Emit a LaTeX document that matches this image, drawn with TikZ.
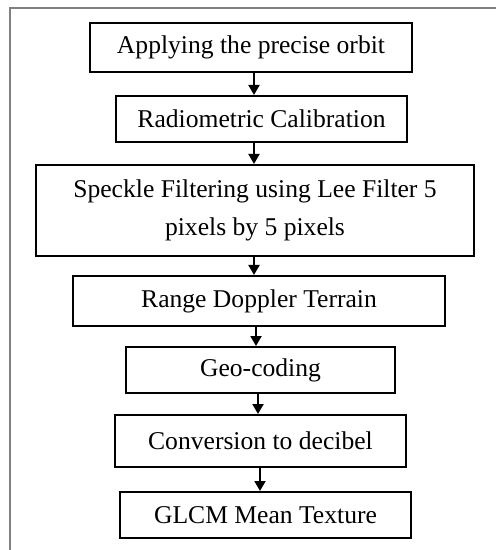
\documentclass[tikz,border=0pt]{standalone}
\usepackage{fontspec}
\setmainfont{Liberation Serif}
\usetikzlibrary{arrows.meta}

\begin{document}
\begin{tikzpicture}[x=0.5pt,y=-0.5pt,>={Triangle[width=5.5pt,length=5pt]},
  stepbox/.style={draw,line width=1pt,inner sep=0pt,align=center,
    font=\fontsize{12.8}{19}\selectfont},
  flow/.style={->,line width=1pt}]
  \useasboundingbox (0,0) rectangle (496,550);
  \draw[gray,line width=0.75pt] (496,8)--(10,8)--(10,550);
  \node[stepbox,minimum width=161pt,minimum height=24.5pt] (orbit) at (251,47.5) {Applying the precise orbit};
  \node[stepbox,minimum width=145.5pt,minimum height=23pt] (calib) at (261.5,119) {Radiometric Calibration};
  \node[stepbox,minimum width=219pt,minimum height=45.5pt] (speckle) at (255,210.5) {Speckle Filtering using Lee Filter 5\\pixels by 5 pixels};
  \node[stepbox,minimum width=186pt,minimum height=25pt] (terrain) at (259,301) {Range Doppler Terrain};
  \node[stepbox,minimum width=134.5pt,minimum height=23pt] (geo) at (260.5,370) {Geo-coding};
  \node[stepbox,minimum width=145.5pt,minimum height=26pt] (decibel) at (260.5,441) {Conversion to decibel};
  \node[stepbox,minimum width=145.5pt,minimum height=23pt] (glcm) at (265.5,515) {GLCM Mean Texture};
  \coordinate (s1) at (254,0); \coordinate (s2) at (256,0);
  \coordinate (s3) at (258,0); \coordinate (s4) at (260,0);
  \draw[flow] (orbit.south -| s1)--(calib.north -| s1);
  \draw[flow] (calib.south -| s1)--(speckle.north -| s1);
  \draw[flow] (speckle.south -| s1)--(terrain.north -| s1);
  \draw[flow] (terrain.south -| s2)--(geo.north -| s2);
  \draw[flow] (geo.south -| s3)--(decibel.north -| s3);
  \draw[flow] (decibel.south -| s4)--(glcm.north -| s4);
\end{tikzpicture}
\end{document}
